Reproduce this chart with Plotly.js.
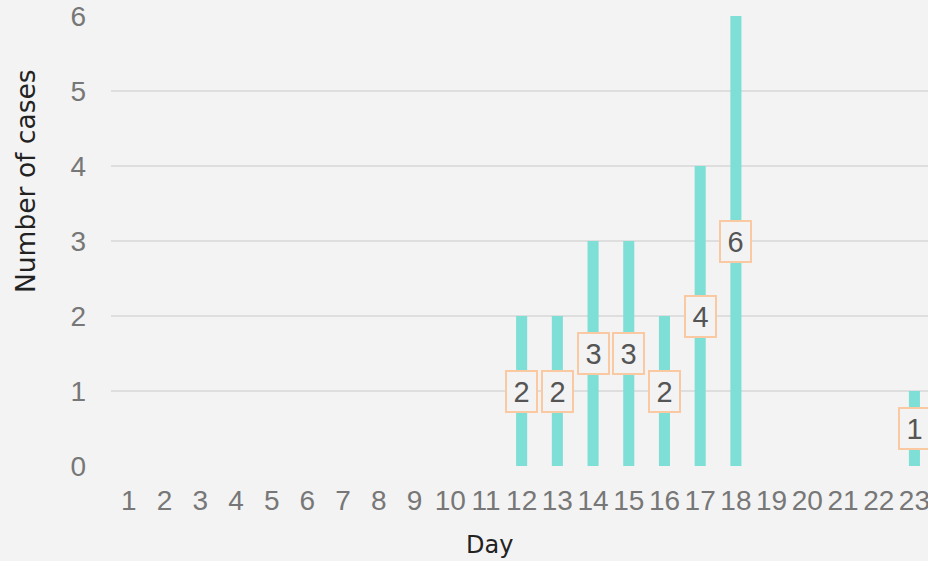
<!DOCTYPE html>
<html>
<head>
<meta charset="utf-8">
<script src="https://cdn.plot.ly/plotly-3.0.1.min.js"></script>
<style>
html,body{margin:0;padding:0;background:#f3f3f3;overflow:hidden;}
#chart{width:928px;height:561px;}
</style>
</head>
<body>
<div id="chart"></div>
<script>
const days = [1,2,3,4,5,6,7,8,9,10,11,12,13,14,15,16,17,18,19,20,21,22,23];
const cases = [0,0,0,0,0,0,0,0,0,0,0,2,2,3,3,2,4,6,0,0,0,0,1];
const yTicks = [0,1,2,3,4,5,6];
const xTitle = 'Day';
const yTitle = 'Number of cases';

const tickFont = '"Liberation Sans", Arial, sans-serif';
const titleFont = '"DejaVu Sans", sans-serif';

const annotations = [];
days.forEach((d,i)=>{
  if (cases[i] > 0) {
    annotations.push({
      x: d, y: cases[i]/2, xref:'x', yref:'y',
      text: String(cases[i]), showarrow:false,
      font:{family:tickFont, size:29, color:'#555555'},
      bgcolor:'#f3f3f3', bordercolor:'#fbc9a1', borderwidth:2, borderpad:1,
      width:27, height:37, align:'center', valign:'middle'
    });
  }
});
annotations.push({
  text: yTitle, textangle:-90, showarrow:false,
  xref:'paper', yref:'paper', x:(25-111)/817, y:(466-181)/450,
  xanchor:'center', yanchor:'middle',
  font:{family:titleFont, size:26.5, color:'#222222'}
});
annotations.push({
  text: xTitle, showarrow:false,
  xref:'paper', yref:'paper', x:(489-111)/817, y:(466-545)/450,
  xanchor:'center', yanchor:'middle',
  font:{family:titleFont, size:24, color:'#222222'}
});

const trace = {
  type:'bar', x: days, y: cases, width:0.31,
  marker:{color:'#7ddfd6'}, hoverinfo:'skip'
};

const layout = {
  width:928, height:561,
  paper_bgcolor:'#f3f3f3', plot_bgcolor:'#f3f3f3',
  margin:{l:111, r:0, t:16, b:95},
  showlegend:false,
  font:{family:tickFont},
  xaxis:{
    range:[0.5, 23.38], tickmode:'array', tickvals: days, ticktext: days.map(String),
    showgrid:false, zeroline:false, showline:false, ticks:'',
    tickfont:{size:28, color:'#777777'}, ticklabelstandoff:15, ticklabeloverflow:'allow'
  },
  yaxis:{
    range:[0,6], tickmode:'array', tickvals:yTicks,
    showgrid:true, gridcolor:'#dedede', gridwidth:2, zeroline:false, showline:false, ticks:'',
    tickfont:{size:28, color:'#777777'}, ticklabelstandoff:24
  },
  annotations: annotations
};

Plotly.newPlot('chart', [trace], layout, {displayModeBar:false, staticPlot:true});
</script>
</body>
</html>
